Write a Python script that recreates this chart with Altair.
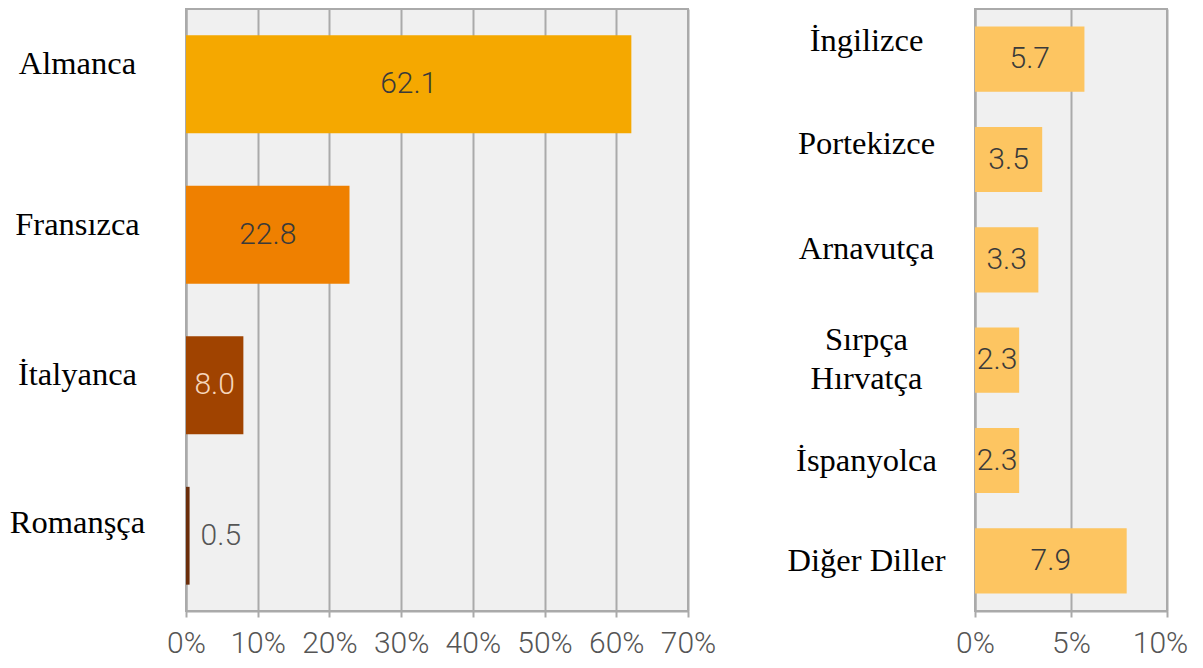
import altair as alt
import pandas as pd

# ---- data ----
left_langs = ["Almanca", "Fransızca", "İtalyanca", "Romanşça"]
left_vals = [62.1, 22.8, 8.0, 0.5]
left_colors = ["#f5a800", "#ef8000", "#a04300", "#6b2e0b"]
left_ticks = [0, 10, 20, 30, 40, 50, 60, 70]

right_langs = ["İngilizce", "Portekizce", "Arnavutça", "Sırpça\nHırvatça", "İspanyolca", "Diğer Diller"]
right_vals = [5.7, 3.5, 3.3, 2.3, 2.3, 7.9]
right_color = "#fdc561"
right_ticks = [0, 5, 10]

left_df = pd.DataFrame({"lang": left_langs, "val": left_vals})
right_df = pd.DataFrame({"lang": right_langs, "val": right_vals})

GRID = "#aaaaaa"
SERIF = "Liberation Serif"
SANS = "Roboto"


def x_axis(ticks, offset=0):
    return alt.Axis(
        values=ticks, title=None, labelExpr="datum.value + '%'",
        grid=True, gridColor=GRID, gridWidth=2,
        domain=True, domainColor=GRID, domainWidth=2,
        ticks=True, tickColor=GRID, tickWidth=2, tickSize=6,
        labelFont=SANS, labelFontSize=30, labelFontWeight=300, labelColor="#555555",
        labelPadding=11, labelFlush=False, labelOverlap=False, labelOffset=offset,
    )


def y_axis(offset):
    return alt.Axis(
        title=None, ticks=False, grid=False,
        domain=True, domainColor=GRID, domainWidth=2,
        labelAlign="center", labelBaseline="middle", labelPadding=109,
        labelOffset=offset, labelFont=SERIF, labelFontSize=32.5,
        labelColor="black", labelLimit=0, labelLineHeight=39,
        labelExpr="split(datum.label, '\\n')",
    )


def offsets(pairs, default):
    return {
        "condition": [{"test": f"datum.value == '{k}'", "value": v} for k, v in pairs],
        "value": default,
    }


band = alt.Scale(paddingInner=0.35, paddingOuter=0.175)
H = 602

# ---- left panel ----
xl_scale = alt.Scale(domain=[0, 70], nice=False)
left_yoff = offsets([("Almanca", -20), ("Fransızca", -9.5), ("İtalyanca", -10.5)], -12.5)
XL = lambda f: alt.X(f, scale=xl_scale, axis=x_axis(left_ticks))
YL = alt.Y("lang:N", sort=left_langs, scale=band, axis=y_axis(left_yoff))

left_bars = alt.Chart(left_df).mark_bar().encode(
    x=XL("val:Q"),
    y=YL,
    color=alt.Color("lang:N", scale=alt.Scale(domain=left_langs, range=left_colors), legend=None),
)
left_in = alt.Chart(left_df).transform_filter("datum.val >= 1").transform_calculate(
    mid="datum.val / 2"
).mark_text(font=SANS, fontSize=30, fontWeight=300, align="center", baseline="middle").encode(
    x=XL("mid:Q"),
    y=YL,
    text=alt.Text("val:Q", format=".1f"),
    color=alt.condition("datum.lang == 'İtalyanca'", alt.value("#f6d6bb"), alt.value("#3a3a3a")),
)
left_out = alt.Chart(left_df).transform_filter("datum.val < 1").mark_text(
    font=SANS, fontSize=30, fontWeight=300, align="left", baseline="middle", dx=11, color="#555555"
).encode(
    x=XL("val:Q"),
    y=YL,
    text=alt.Text("val:Q", format=".1f"),
)
left = alt.layer(left_bars, left_in, left_out).properties(width=502, height=H)

# ---- right panel ----
xr_scale = alt.Scale(domain=[0, 10], nice=False)
right_yoff = offsets([("İngilizce", -18.5), ("Portekizce", -15.5), ("Arnavutça", -11),
                      ("Sırpça\\nHırvatça", -20)], 0)
right_xoff = {"condition": {"test": "datum.value == 10", "value": -7}, "value": 0}
XR = lambda f: alt.X(f, scale=xr_scale, axis=x_axis(right_ticks, right_xoff))
YR = alt.Y("lang:N", sort=right_langs, scale=band, axis=y_axis(right_yoff))

right_bars = alt.Chart(right_df).mark_bar(color=right_color).encode(
    x=XR("val:Q"),
    y=YR,
)
right_in = alt.Chart(right_df).transform_calculate(
    mid="datum.val / 2"
).mark_text(font=SANS, fontSize=30, fontWeight=300, align="center", baseline="middle", color="#3a3a3a").encode(
    x=XR("mid:Q"),
    y=YR,
    text=alt.Text("val:Q", format=".1f"),
)
right = alt.layer(right_bars, right_in).properties(width=192, height=H)

chart = alt.hconcat(left, right, spacing=69).properties(
    padding={"left": 0, "top": 0, "right": 0, "bottom": 0}
).configure_view(fill="#f0f0f0", stroke=GRID, strokeWidth=2)

chart.save("out.html", embed_options={"renderer": "svg", "actions": False})
